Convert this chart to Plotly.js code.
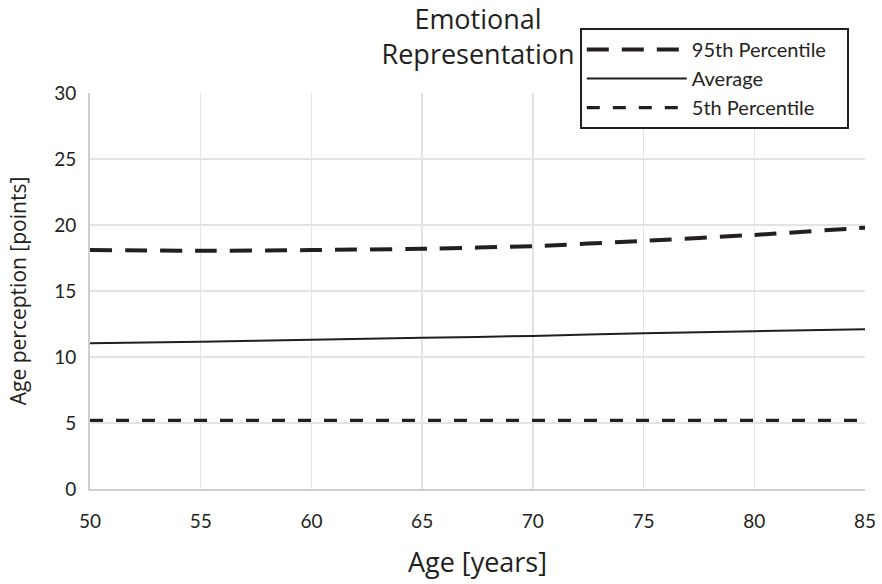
<!DOCTYPE html>
<html>
<head>
<meta charset="utf-8">
<script src="https://cdn.plot.ly/plotly-3.0.1.min.js"></script>
<style>html,body{margin:0;padding:0;background:#fff}#chart{width:882px;height:584px}</style>
</head>
<body>
<div id="chart"></div>
<script>
var ages = [50, 55, 60, 65, 70, 75, 80, 85];
var p95 = [18.1, 18.05, 18.1, 18.2, 18.4, 18.8, 19.25, 19.8];
var avg = [11.05, 11.15, 11.3, 11.45, 11.6, 11.8, 11.95, 12.1];
var p5 = [5.2, 5.2, 5.2, 5.2, 5.2, 5.2, 5.2, 5.2];
var seriesNames = ["95th Percentile", "Average", "5th Percentile"];
var xTicks = [50, 55, 60, 65, 70, 75, 80, 85];
var yTicks = [0, 5, 10, 15, 20, 25, 30];

var ink = "#231f20";
var pad = "\u00a0\u00a0\u00a0";
var traces = [
  {x: ages, y: p95, name: seriesNames[0] + pad, type: "scatter", mode: "lines", line: {color: ink, width: 4, dash: "22px,13px", shape: "spline", smoothing: 0.6}},
  {x: ages, y: avg, name: seriesNames[1], type: "scatter", mode: "lines", line: {color: ink, width: 2, shape: "spline", smoothing: 0.6}},
  {x: ages, y: p5, name: seriesNames[2], type: "scatter", mode: "lines", line: {color: ink, width: 3.3, dash: "13px,13px"}}
];
var font = "Lato, 'Open Sans', sans-serif";
var layout = {
  width: 882, height: 584,
  margin: {l: 90, r: 17, t: 93, b: 95},
  paper_bgcolor: "#fff", plot_bgcolor: "#fff",
  font: {family: font, color: ink},
  showlegend: true,
  title: {text: "Emotional<br>Representation", x: 0.542, xanchor: "center", xref: "container", y: 0.950, yanchor: "middle", yref: "container", font: {family: "'Open Sans', Lato, sans-serif", size: 27, color: ink}},
  legend: {x: 0.632, xanchor: "left", y: 1.164, yanchor: "top", xref: "paper", yref: "paper", bgcolor: "#fff", bordercolor: ink, borderwidth: 2, font: {family: font, size: 20, color: ink}, tracegroupgap: 0, itemwidth: 100},
  xaxis: {
    range: [50, 85], tickvals: xTicks, ticktext: xTicks.map(String),
    showgrid: true, gridcolor: "#e3e3e3", gridwidth: 1.5,
    showline: true, linecolor: "#cfcfcf", linewidth: 2,
    zeroline: false, ticks: "outside", ticklen: 14, tickcolor: "rgba(0,0,0,0)",
    tickfont: {family: font, size: 19, color: ink},
    title: {text: "Age [years]", font: {family: "'Open Sans', Lato, sans-serif", size: 27, color: ink}, standoff: 22}
  },
  yaxis: {
    range: [0, 30], tickvals: yTicks, ticktext: yTicks.map(String),
    showgrid: true, gridcolor: "#e3e3e3", gridwidth: 1.5,
    showline: true, linecolor: "#cfcfcf", linewidth: 2,
    zeroline: false, ticks: "outside", ticklen: 8, tickcolor: "rgba(0,0,0,0)",
    tickfont: {family: font, size: 19, color: ink},
    title: {text: "Age perception [points]", font: {family: "'Open Sans', Lato, sans-serif", size: 21, color: ink}, standoff: 22}
  }
};
Plotly.newPlot("chart", traces, layout, {displayModeBar: false, staticPlot: true});
</script>
</body>
</html>
